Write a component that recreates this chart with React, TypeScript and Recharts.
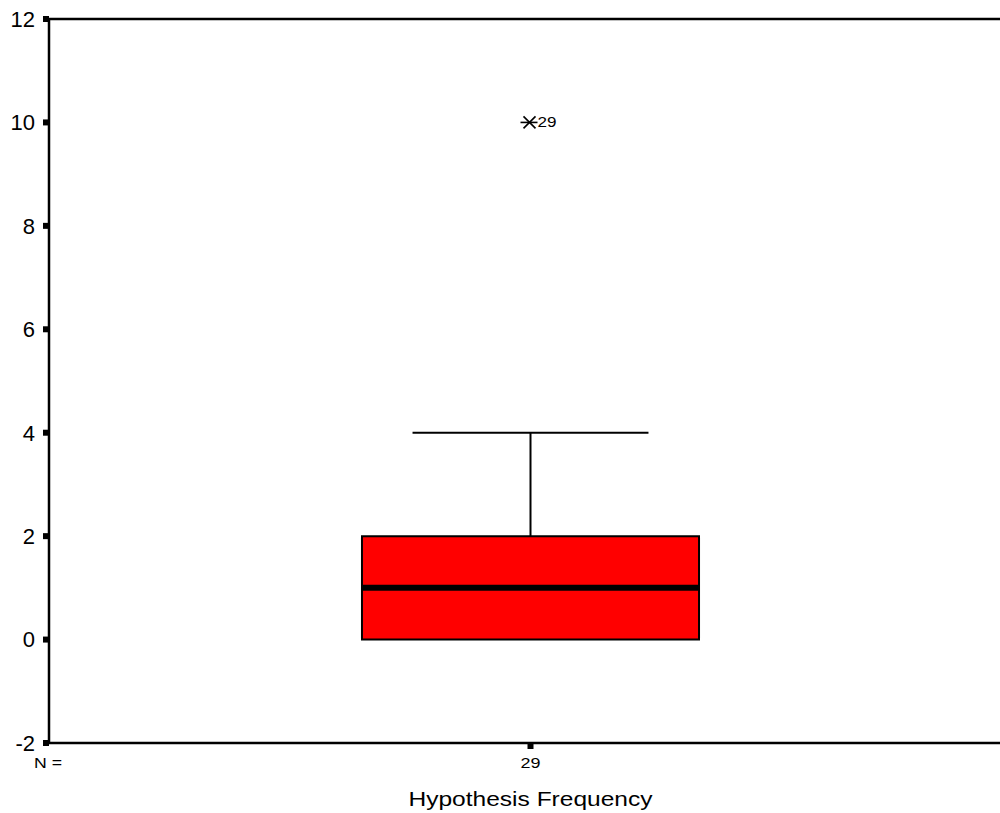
import {
  ComposedChart,
  ReferenceArea,
  ReferenceLine,
  Scatter,
  XAxis,
  YAxis,
} from "recharts";

const groupLabel = "Hypothesis Frequency";
const groupPos = [1];
const counts = [29];
const lowerWhisker = [0];
const q1 = [0];
const medians = [1];
const q3 = [2];
const upperWhisker = [4];
const outlierValues = [10];
const outlierCases = [29];
const yTicks = [-2, 0, 2, 4, 6, 8, 10, 12];

const BOX_HALF = 0.35;
const CAP_HALF = 0.245;

const outliers = outlierValues.map((v, i) => ({ x: groupPos[0], y: v, id: outlierCases[i] }));

const font = "'Liberation Sans', Arial, sans-serif";

// SPSS style asterisk for extreme values, with the case number beside it
function Extreme(props: any) {
  const { cx, cy, payload } = props;
  return (
    <g stroke="#000" strokeWidth={1.6}>
      <line x1={cx - 10} y1={cy} x2={cx + 7} y2={cy} />
      <line x1={cx - 7} y1={cy - 6} x2={cx + 5} y2={cy + 6} />
      <line x1={cx - 7} y1={cy + 6} x2={cx + 5} y2={cy - 6} />
      <text
        x={cx + 7}
        y={cy + 5}
        stroke="none"
        fill="#000"
        fontSize={15}
        fontFamily={font}
        textLength={19}
        lengthAdjust="spacingAndGlyphs"
      >
        {payload.id}
      </text>
    </g>
  );
}

function CountTick(props: any) {
  const { x, y, index } = props;
  return (
    <g>
      <text
        x={x}
        y={y + 16}
        textAnchor="middle"
        fill="#000"
        fontSize={15}
        fontFamily={font}
        textLength={20}
        lengthAdjust="spacingAndGlyphs"
      >
        {counts[index] ?? counts[0]}
      </text>
    </g>
  );
}

function TitleLabel(props: any) {
  const { viewBox } = props;
  const cx = viewBox.x + viewBox.width / 2;
  return (
    <text
      x={cx}
      y={viewBox.y + viewBox.height - 7}
      textAnchor="middle"
      fill="#000"
      fontSize={20.5}
      fontFamily={font}
      textLength={244}
      lengthAdjust="spacingAndGlyphs"
    >
      {groupLabel}
    </text>
  );
}

export default function App() {
  const x = groupPos[0];
  return (
    <div
      style={{
        position: "fixed",
        left: 0,
        top: 0,
        width: 1000,
        height: 813,
        overflow: "hidden",
        background: "#fff",
        fontFamily: font,
      }}
    >
      <ComposedChart
        width={1012}
        height={813}
        data={outliers}
        margin={{ top: 19, right: 0, left: 0, bottom: 0 }}
      >
        <XAxis
          type="number"
          dataKey="x"
          domain={[0, 2]}
          ticks={groupPos}
          height={70}
          axisLine={{ stroke: "#000", strokeWidth: 2.5 }}
          tickLine={{ stroke: "#000", strokeWidth: 6 }}
          tickSize={6}
          tickMargin={3}
          tick={<CountTick />}
          label={<TitleLabel />}
        />
        <YAxis
          type="number"
          dataKey="y"
          domain={[-2, 12]}
          ticks={yTicks}
          interval={0}
          width={49}
          axisLine={{ stroke: "#000", strokeWidth: 2.5 }}
          tickLine={{ stroke: "#000", strokeWidth: 6 }}
          tickSize={6}
          tickMargin={8}
          tick={{ fill: "#000", fontSize: 22, fontFamily: font }}
        />
        <ReferenceLine y={12} stroke="#000" strokeWidth={2.5} />
        <ReferenceLine
          segment={[
            { x, y: q3[0] },
            { x, y: upperWhisker[0] },
          ]}
          stroke="#000"
          strokeWidth={2}
        />
        <ReferenceLine
          segment={[
            { x: x - CAP_HALF, y: upperWhisker[0] },
            { x: x + CAP_HALF, y: upperWhisker[0] },
          ]}
          stroke="#000"
          strokeWidth={2}
        />
        <ReferenceLine
          segment={[
            { x, y: lowerWhisker[0] },
            { x, y: q1[0] },
          ]}
          stroke="#000"
          strokeWidth={2}
        />
        <ReferenceArea
          x1={x - BOX_HALF}
          x2={x + BOX_HALF}
          y1={q1[0]}
          y2={q3[0]}
          fill="#ff0000"
          fillOpacity={1}
          stroke="#000"
          strokeWidth={2}
        />
        <ReferenceLine
          segment={[
            { x: x - BOX_HALF, y: medians[0] },
            { x: x + BOX_HALF, y: medians[0] },
          ]}
          stroke="#000"
          strokeWidth={6}
        />
        <Scatter dataKey="y" shape={<Extreme />} isAnimationActive={false} />
      </ComposedChart>
      <svg
        width={80}
        height={30}
        style={{ position: "absolute", left: 0, top: 750 }}
      >
        <text
          x={34}
          y={18}
          fill="#000"
          fontSize={15}
          fontFamily={font}
          textLength={28}
          lengthAdjust="spacingAndGlyphs"
        >
          N =
        </text>
      </svg>
    </div>
  );
}
